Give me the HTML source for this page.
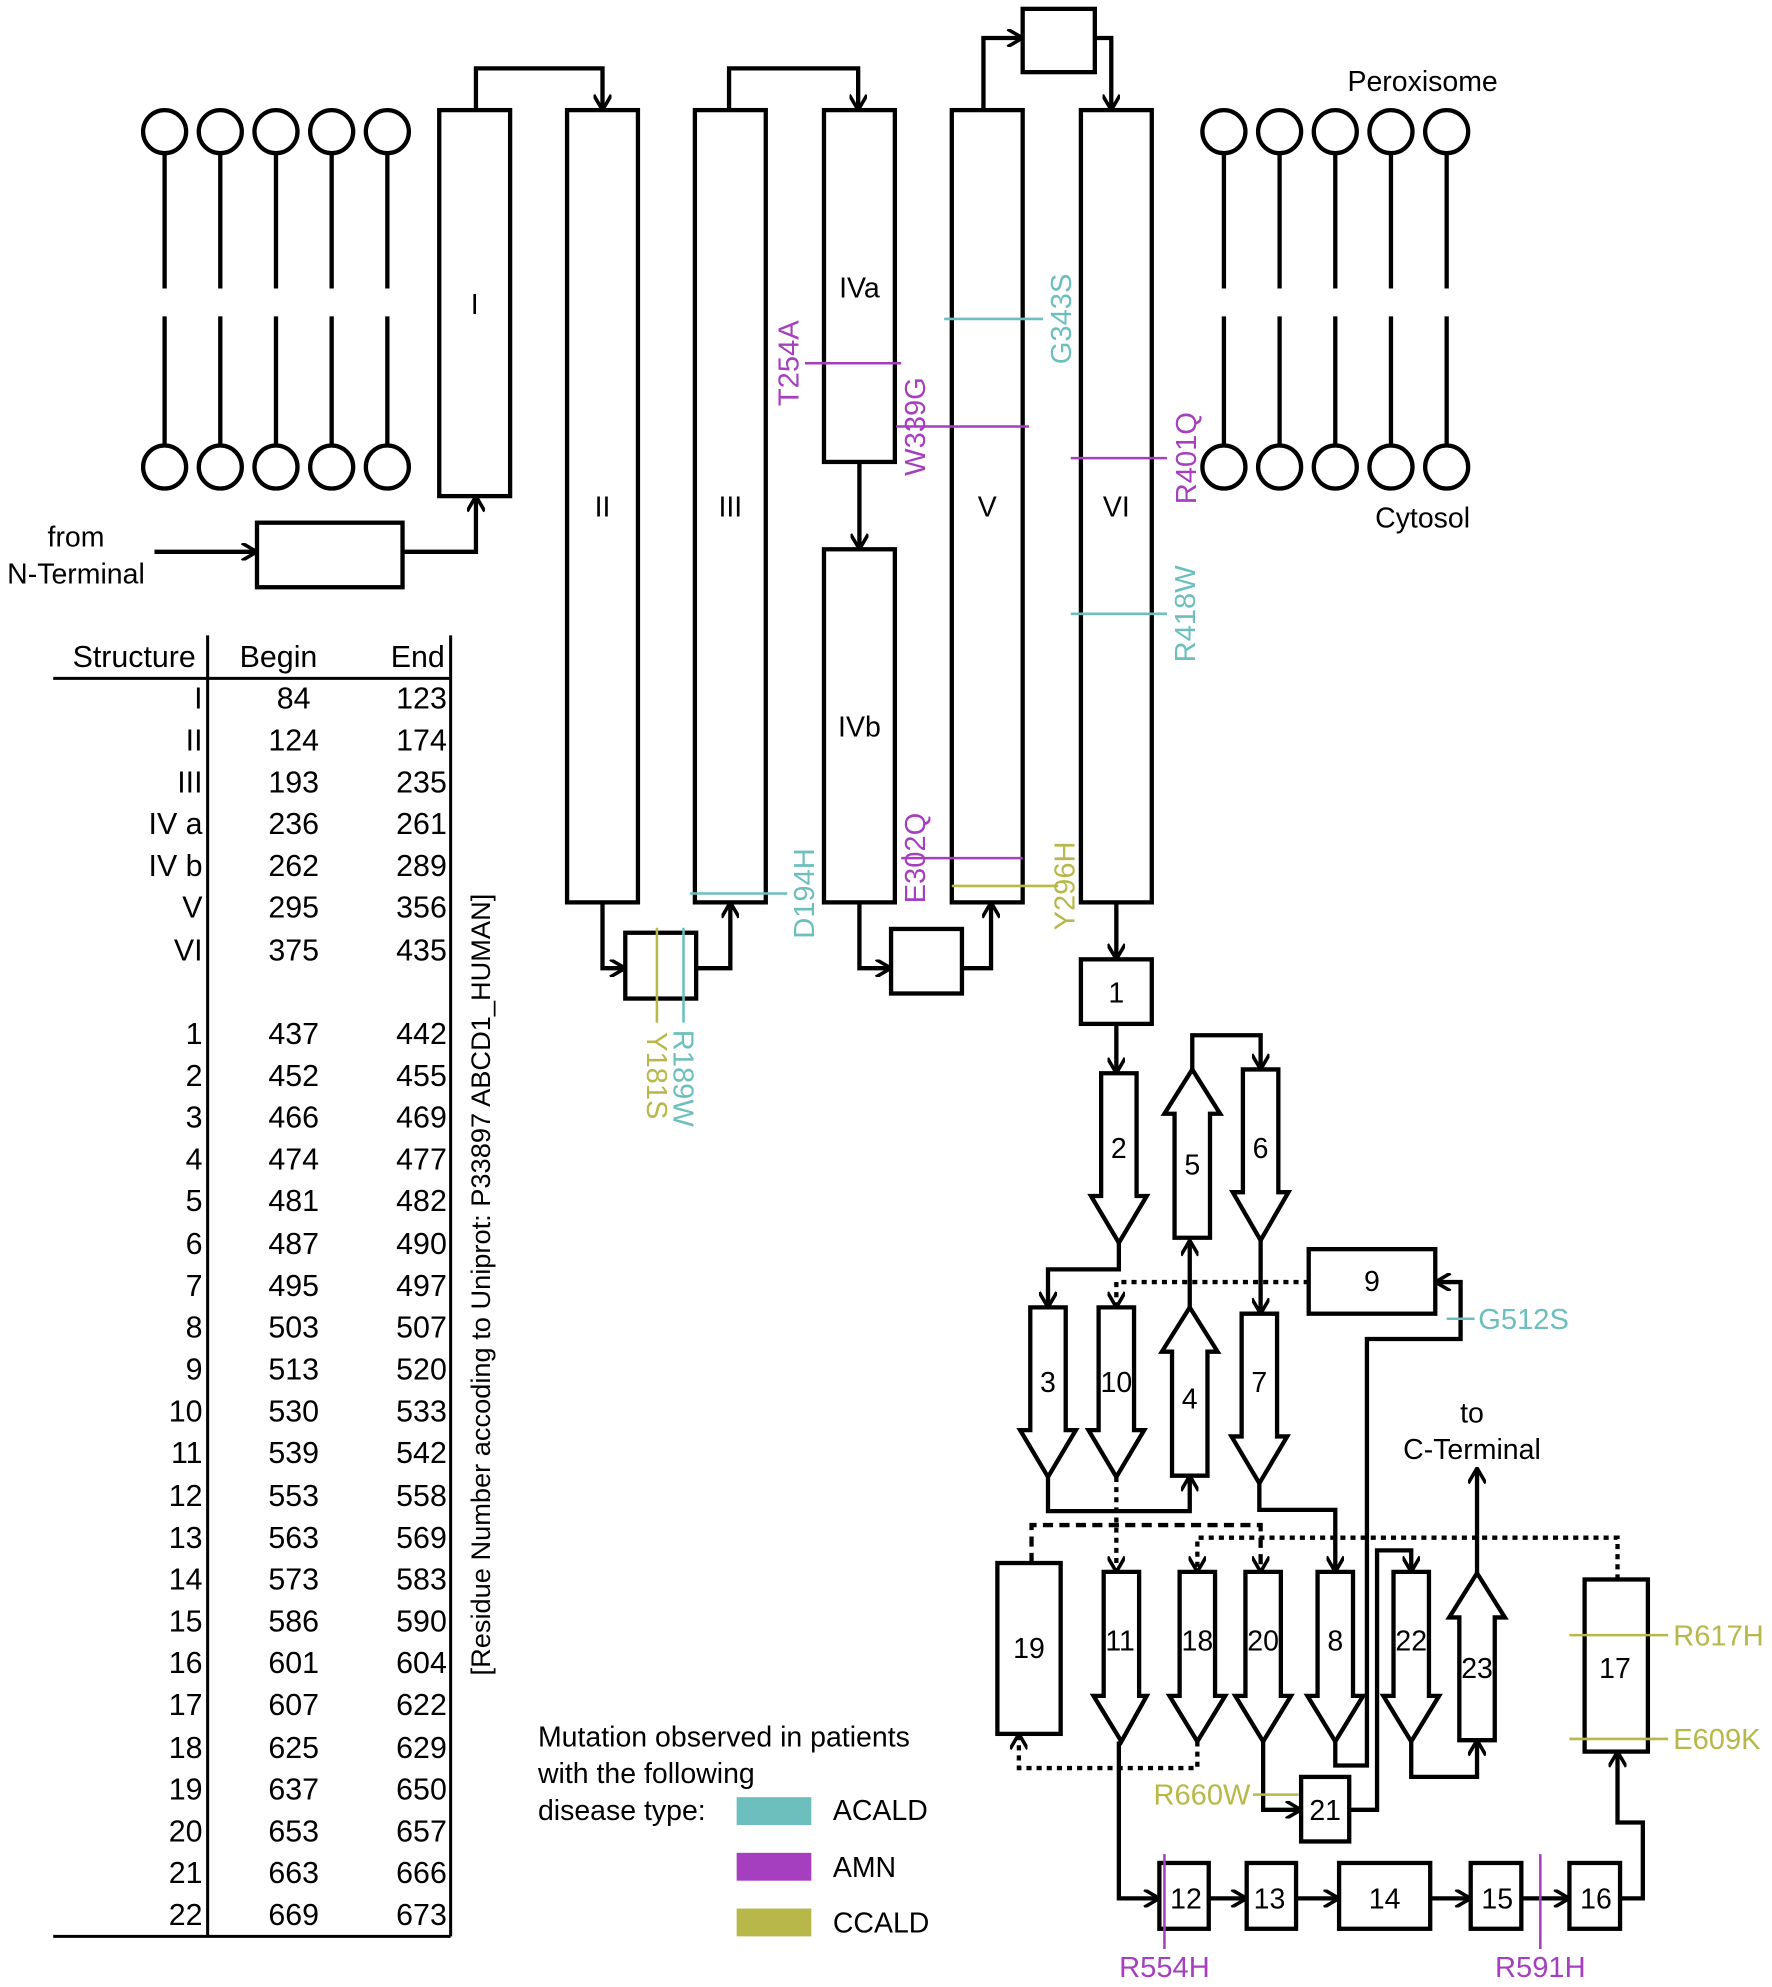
<!DOCTYPE html>
<html><head><meta charset="utf-8"><style>
html,body{margin:0;padding:0;background:#fff;}
svg{display:block;}
text{font-family:"Liberation Sans",sans-serif;}
</style></head><body>
<svg width="1772" height="1987" viewBox="0 0 1400 1570" xmlns="http://www.w3.org/2000/svg">
<defs>
<marker id="a" viewBox="0 0 14 14" refX="13" refY="7" markerWidth="14" markerHeight="14" markerUnits="userSpaceOnUse" orient="auto">
<path d="M1,0 L13,7 L1,14" fill="none" stroke="#000" stroke-width="2.8"/>
</marker>
</defs>
<g fill="none" stroke="#000" stroke-width="3.4">
<g>
<circle cx="130" cy="104" r="17"/><circle cx="174" cy="104" r="17"/><circle cx="218" cy="104" r="17"/><circle cx="262" cy="104" r="17"/><circle cx="306" cy="104" r="17"/>
<circle cx="130" cy="369" r="17"/><circle cx="174" cy="369" r="17"/><circle cx="218" cy="369" r="17"/><circle cx="262" cy="369" r="17"/><circle cx="306" cy="369" r="17"/>
<circle cx="967" cy="104" r="17"/><circle cx="1011" cy="104" r="17"/><circle cx="1055" cy="104" r="17"/><circle cx="1099" cy="104" r="17"/><circle cx="1143" cy="104" r="17"/>
<circle cx="967" cy="369" r="17"/><circle cx="1011" cy="369" r="17"/><circle cx="1055" cy="369" r="17"/><circle cx="1099" cy="369" r="17"/><circle cx="1143" cy="369" r="17"/>
<path d="M130,121V228M130,250V352M174,121V228M174,250V352M218,121V228M218,250V352M262,121V228M262,250V352M306,121V228M306,250V352"/>
<path d="M967,121V228M967,250V352M1011,121V228M1011,250V352M1055,121V228M1055,250V352M1099,121V228M1099,250V352M1143,121V228M1143,250V352"/>
</g>
<rect x="347" y="87" width="56" height="305"/>
<rect x="448" y="87" width="56" height="626"/>
<rect x="549" y="87" width="56" height="626"/>
<rect x="651" y="87" width="56" height="278"/>
<rect x="651" y="434" width="56" height="279"/>
<rect x="752" y="87" width="56" height="626"/>
<rect x="854" y="87" width="56" height="626"/>
<rect x="808" y="7" width="57" height="50"/>
<rect x="203" y="413" width="115" height="51"/>
<rect x="494" y="737" width="56" height="52"/>
<rect x="704" y="734" width="56" height="51"/>
<rect x="854" y="758" width="56" height="51"/>
<path d="M376,87V54H476V87" marker-end="url(#a)"/>
<path d="M576,87V54H678V87" marker-end="url(#a)"/>
<path d="M777,87V30H808" marker-end="url(#a)"/>
<path d="M865,30H878V87" marker-end="url(#a)"/>
<path d="M679,365V434" marker-end="url(#a)"/>
<path d="M122,436H203" marker-end="url(#a)"/>
<path d="M318,436H376V392" marker-end="url(#a)"/>
<path d="M476,713V765H494" marker-end="url(#a)"/>
<path d="M550,765H577V713" marker-end="url(#a)"/>
<path d="M679,713V765H704" marker-end="url(#a)"/>
<path d="M760,765H783V713" marker-end="url(#a)"/>
<path d="M882,713V758" marker-end="url(#a)"/>
<path d="M870,848H898V945H906L884,982L862,945H870Z"/>
<path d="M928,978V880H920L942,845L964,880H956V978Z"/>
<path d="M982,845H1010V942H1018L996,980L974,942H982Z"/>
<path d="M814,1033H842V1130H850L828,1167L806,1130H814Z"/>
<path d="M868,1033H896V1130H904L882,1167L860,1130H868Z"/>
<path d="M926,1166V1068H918L940,1033L962,1068H954V1166Z"/>
<path d="M981,1038H1009V1135H1017L995,1172L973,1135H981Z"/>
<rect x="1034" y="987" width="100" height="51"/>
<rect x="788" y="1235" width="50" height="135"/>
<path d="M872,1242H900V1340H906L886,1376L864,1340H872Z"/>
<path d="M932,1242H960V1340H968L946,1376L924,1340H932Z"/>
<path d="M984,1242H1012V1340H1020L998,1376L976,1340H984Z"/>
<path d="M1041,1242H1069V1340H1077L1055,1376L1033,1340H1041Z"/>
<path d="M1101,1242H1129V1340H1137L1115,1376L1093,1340H1101Z"/>
<path d="M1153,1375V1278H1145L1167,1243L1189,1278H1181V1375Z"/>
<rect x="1252" y="1248" width="50" height="136"/>
<rect x="1028" y="1404" width="38" height="51"/>
<rect x="916" y="1472" width="39" height="52"/>
<rect x="985" y="1472" width="39" height="52"/>
<rect x="1058" y="1472" width="72" height="52"/>
<rect x="1162" y="1472" width="40" height="52"/>
<rect x="1240" y="1472" width="40" height="52"/>
<path d="M882,809V848" marker-end="url(#a)"/>
<path d="M942,845V818H996V845" marker-end="url(#a)"/>
<path d="M884,982V1003H828V1033" marker-end="url(#a)"/>
<path d="M996,980V1038" marker-end="url(#a)"/>
<path d="M940,1033V980" marker-end="url(#a)"/>
<path d="M828,1167V1194H940V1166" marker-end="url(#a)"/>
<path d="M995,1172V1193H1055V1242" marker-end="url(#a)"/>
<path d="M1055,1376V1395H1080V1058H1154V1013H1134" marker-end="url(#a)"/>
<path d="M884,1376V1500H916" marker-end="url(#a)"/>
<path d="M955,1500H985" marker-end="url(#a)"/>
<path d="M1024,1500H1058" marker-end="url(#a)"/>
<path d="M1130,1500H1162" marker-end="url(#a)"/>
<path d="M1202,1500H1240" marker-end="url(#a)"/>
<path d="M1280,1500H1298V1440H1278V1384" marker-end="url(#a)"/>
<path d="M998,1376V1430H1028" marker-end="url(#a)"/>
<path d="M1066,1430H1088V1225H1115V1242" marker-end="url(#a)"/>
<path d="M1115,1376V1404H1167V1375" marker-end="url(#a)"/>
<path d="M1167,1243V1160" marker-end="url(#a)"/>
<g stroke-dasharray="4,4">
<path d="M1034,1013H882V1033" marker-end="url(#a)"/>
<path d="M882,1167V1242" marker-end="url(#a)"/>
<path d="M1278,1248V1215H946V1242" marker-end="url(#a)"/>
<path d="M946,1376V1397H805V1370" marker-end="url(#a)"/>
</g>
<path d="M815,1235V1205H996V1242" stroke-dasharray="8,5" marker-end="url(#a)"/>
<path d="M164,502V1530M356,502V1530M42,536H356M42,1530H356" stroke-width="2.4"/>
</g>
<g stroke-width="2">
<path d="M636,287H712M708,337H813M712,678H808M846,362H922M920,1465V1540M1217,1465V1540" stroke="#a63fbf"/>
<path d="M746,252H824M846,485H922M545,706H622M540,733V808M1143,1042H1165" stroke="#6cbfbd"/>
<path d="M752,700H836M519,733V808M1240,1292H1318M1240,1374H1318M990,1418H1026" stroke="#b8b84a"/>
</g>
<g font-size="22.5" fill="#000" text-anchor="middle">
<text x="375" y="248">I</text><text x="476" y="408">II</text><text x="577" y="408">III</text>
<text x="679" y="235">IVa</text><text x="679" y="582">IVb</text><text x="780" y="408">V</text><text x="882" y="408">VI</text>
<text x="882" y="792">1</text><text x="884" y="915">2</text><text x="942" y="928">5</text><text x="996" y="915">6</text>
<text x="828" y="1100">3</text><text x="882" y="1100">10</text><text x="940" y="1113">4</text><text x="995" y="1100">7</text><text x="1084" y="1020">9</text>
<text x="813" y="1310">19</text><text x="885" y="1304">11</text><text x="946" y="1304">18</text><text x="998" y="1304">20</text><text x="1055" y="1304">8</text><text x="1115" y="1304">22</text><text x="1167" y="1326">23</text><text x="1276" y="1326">17</text>
<text x="1047" y="1438">21</text><text x="937" y="1508">12</text><text x="1003" y="1508">13</text><text x="1094" y="1508">14</text><text x="1183" y="1508">15</text><text x="1261" y="1508">16</text>
<text x="1124" y="72">Peroxisome</text><text x="1124" y="417">Cytosol</text>
<text x="60" y="432">from</text><text x="60" y="461">N-Terminal</text>
<text x="1163" y="1124">to</text><text x="1163" y="1153">C-Terminal</text>
</g>
<g font-size="23" fill="#6cbfbd">
<text transform="translate(846,252) rotate(-90)" text-anchor="middle">G343S</text>
<text transform="translate(944,485) rotate(-90)" text-anchor="middle">R418W</text>
<text transform="translate(643,706) rotate(-90)" text-anchor="middle">D194H</text>
<text transform="translate(532,852) rotate(90)" text-anchor="middle">R189W</text>
<text x="1168" y="1050">G512S</text>
</g>
<g font-size="23" fill="#a63fbf">
<text transform="translate(631,287) rotate(-90)" text-anchor="middle">T254A</text>
<text transform="translate(731,337) rotate(-90)" text-anchor="middle">W339G</text>
<text transform="translate(731,678) rotate(-90)" text-anchor="middle">E302Q</text>
<text transform="translate(945,362) rotate(-90)" text-anchor="middle">R401Q</text>
<text x="920" y="1562" text-anchor="middle">R554H</text>
<text x="1217" y="1562" text-anchor="middle">R591H</text>
</g>
<g font-size="23" fill="#b8b84a">
<text transform="translate(849,700) rotate(-90)" text-anchor="middle">Y296H</text>
<text transform="translate(511,850) rotate(90)" text-anchor="middle">Y181S</text>
<text x="1322" y="1300">R617H</text><text x="1322" y="1382">E609K</text>
<text x="988" y="1426" text-anchor="end">R660W</text>
</g>
<g font-size="24" fill="#000">
<text x="106" y="527" text-anchor="middle">Structure</text><text x="220" y="527" text-anchor="middle">Begin</text><text x="330" y="527" text-anchor="middle">End</text>
<g text-anchor="end">
<text x="160" y="560">I</text><text x="160" y="593">II</text><text x="160" y="626">III</text><text x="160" y="659">IV a</text><text x="160" y="692">IV b</text><text x="160" y="725">V</text><text x="160" y="759">VI</text>
<text x="160" y="825">1</text><text x="160" y="858">2</text><text x="160" y="891">3</text><text x="160" y="924">4</text><text x="160" y="957">5</text><text x="160" y="991">6</text><text x="160" y="1024">7</text><text x="160" y="1057">8</text><text x="160" y="1090">9</text><text x="160" y="1123">10</text><text x="160" y="1156">11</text><text x="160" y="1190">12</text><text x="160" y="1223">13</text><text x="160" y="1256">14</text><text x="160" y="1289">15</text><text x="160" y="1322">16</text><text x="160" y="1355">17</text><text x="160" y="1389">18</text><text x="160" y="1422">19</text><text x="160" y="1455">20</text><text x="160" y="1488">21</text><text x="160" y="1521">22</text>
</g>
<g text-anchor="middle">
<text x="232" y="560">84</text><text x="232" y="593">124</text><text x="232" y="626">193</text><text x="232" y="659">236</text><text x="232" y="692">262</text><text x="232" y="725">295</text><text x="232" y="759">375</text>
<text x="232" y="825">437</text><text x="232" y="858">452</text><text x="232" y="891">466</text><text x="232" y="924">474</text><text x="232" y="957">481</text><text x="232" y="991">487</text><text x="232" y="1024">495</text><text x="232" y="1057">503</text><text x="232" y="1090">513</text><text x="232" y="1123">530</text><text x="232" y="1156">539</text><text x="232" y="1190">553</text><text x="232" y="1223">563</text><text x="232" y="1256">573</text><text x="232" y="1289">586</text><text x="232" y="1322">601</text><text x="232" y="1355">607</text><text x="232" y="1389">625</text><text x="232" y="1422">637</text><text x="232" y="1455">653</text><text x="232" y="1488">663</text><text x="232" y="1521">669</text>
</g>
<g text-anchor="end">
<text x="353" y="560">123</text><text x="353" y="593">174</text><text x="353" y="626">235</text><text x="353" y="659">261</text><text x="353" y="692">289</text><text x="353" y="725">356</text><text x="353" y="759">435</text>
<text x="353" y="825">442</text><text x="353" y="858">455</text><text x="353" y="891">469</text><text x="353" y="924">477</text><text x="353" y="957">482</text><text x="353" y="991">490</text><text x="353" y="1024">497</text><text x="353" y="1057">507</text><text x="353" y="1090">520</text><text x="353" y="1123">533</text><text x="353" y="1156">542</text><text x="353" y="1190">558</text><text x="353" y="1223">569</text><text x="353" y="1256">583</text><text x="353" y="1289">590</text><text x="353" y="1322">604</text><text x="353" y="1355">622</text><text x="353" y="1389">629</text><text x="353" y="1422">650</text><text x="353" y="1455">657</text><text x="353" y="1488">666</text><text x="353" y="1521">673</text>
</g>
<text transform="translate(387,1015) rotate(-90)" text-anchor="middle" font-size="21.5">[Residue Number accoding to Uniprot: P33897 ABCD1_HUMAN]</text>
</g>
<g font-size="22.5" fill="#000">
<text x="425" y="1380">Mutation observed in patients</text>
<text x="425" y="1409">with the following</text>
<text x="425" y="1438">disease type:</text>
<text x="658" y="1438">ACALD</text><text x="658" y="1483">AMN</text><text x="658" y="1527">CCALD</text>
</g>
<rect x="582" y="1420" width="59" height="22" fill="#6cbfbd"/>
<rect x="582" y="1464" width="59" height="22" fill="#a63fbf"/>
<rect x="582" y="1508" width="59" height="22" fill="#b8b84a"/>
</svg>
</body></html>
